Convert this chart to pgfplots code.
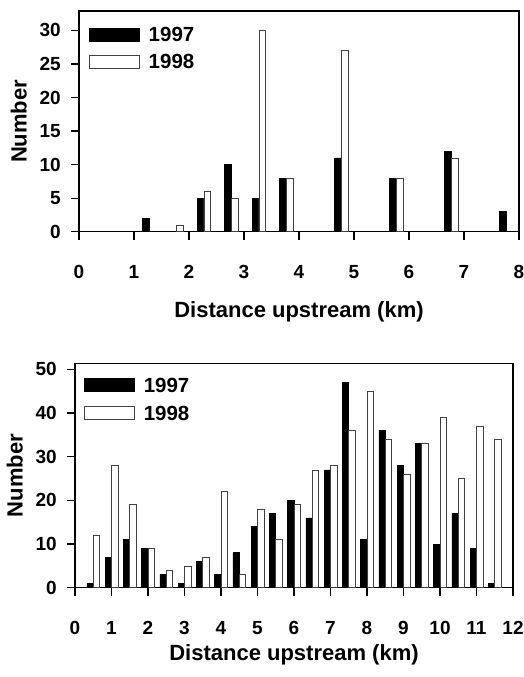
\documentclass[border=0pt]{standalone}
\usepackage{pgfplots}
\pgfplotsset{compat=1.18}
\usepackage{fontspec}
\setmainfont{Liberation Sans}

\pgfplotsset{
  fishaxis/.style={
    scale only axis,
    anchor=north west,
    enlargelimits=false,
    xmin=0, ymin=0,
    axis line style={line width=1.5pt},
    tick align=outside,
    xtick pos=bottom, ytick pos=left,
    major tick length=8pt,
    major tick style={line width=1.2pt, black},
    /pgf/number format/assume math mode=true,
    ticklabel style={font=\fontsize{19}{19}\bfseries\selectfont},
    yticklabel style={inner sep=0pt, xshift=-10pt, anchor=east},
    xticklabel style={inner sep=0pt, yshift=-25pt, anchor=north,
      text height=13.6pt, text depth=0pt},
    xlabel={Distance upstream (km)},
    ylabel={Number},
    label style={font=\fontsize{22}{22}\bfseries\selectfont, inner sep=0pt},
    ylabel style={at={(axis description cs:0,0.5)}, yshift=52pt, anchor=south},
    legend style={draw=none, fill=none, inner sep=0pt, row sep=13pt,
      font=\fontsize{20.5}{20.5}\bfseries\selectfont,
      legend cell align=left, anchor=north west,
      nodes={inner sep=0pt, text height=14pt, text depth=0pt}},
    every axis plot post/.append style={
      legend image code/.code={
        \draw[##1, line width=0.8pt] (0pt,-6.5pt) rectangle (50pt,6.5pt);
        \path[draw=none, fill=none] (50pt,0pt) -- (59pt,0pt);}},
    blackbar/.style={fill=black, draw=black, line width=0.6pt},
    whitebar/.style={fill=white, draw=black!75, line width=0.6pt},
  }
}

\begin{document}
\begin{tikzpicture}
\path[use as bounding box] (0pt,0pt) rectangle (524pt,-677pt);

% upper panel
\begin{axis}[fishaxis,
  at={(79pt,-11pt)}, width=440pt, height=220.7pt,
  xmax=8, ymax=32.9,
  xtick={0,1,...,8}, ytick={0,5,...,30},
  xlabel style={at={(axis description cs:0.5,0)}, yshift=-70pt, anchor=north},
  legend style={at={(axis description cs:0.023,0.925)}},
  ybar, bar width=0.122,
]
\addplot[blackbar, bar shift=-0.061] coordinates {
  (1.27,2) (2.27,5) (2.77,10) (3.27,5) (3.77,8) (4.77,11) (5.77,8) (6.77,12) (7.77,3)};
\addplot[whitebar, bar shift=0.061] coordinates {
  (1.77,1) (2.27,6) (2.77,5) (3.27,30) (3.77,8) (4.77,27) (5.77,8) (6.77,11)};
\legend{1997,1998}
\end{axis}

% lower panel
\begin{axis}[fishaxis,
  at={(75pt,-363.3pt)}, width=438pt, height=224.4pt,
  xmax=12, ymax=51.4,
  xtick={0,1,...,12}, ytick={0,10,...,50},
  xlabel style={at={(axis description cs:0.5,0)}, yshift=-57pt, anchor=north},
  legend style={at={(axis description cs:0.021,0.935)}, row sep=14pt},
  ybar, bar width=0.173,
]
\addplot[blackbar, bar shift=-0.0865] coordinates {
  (0.5,1) (1.0,7) (1.5,11) (2.0,9) (2.5,3) (3.0,1) (3.5,6) (4.0,3)
  (4.5,8) (5.0,14) (5.5,17) (6.0,20) (6.5,16) (7.0,27) (7.5,47) (8.0,11)
  (8.5,36) (9.0,28) (9.5,33) (10.0,10) (10.5,17) (11.0,9) (11.5,1)};
\addplot[whitebar, bar shift=0.0865] coordinates {
  (0.5,12) (1.0,28) (1.5,19) (2.0,9) (2.5,4) (3.0,5) (3.5,7) (4.0,22)
  (4.5,3) (5.0,18) (5.5,11) (6.0,19) (6.5,27) (7.0,28) (7.5,36) (8.0,45)
  (8.5,34) (9.0,26) (9.5,33) (10.0,39) (10.5,25) (11.0,37) (11.5,34)};
\legend{1997,1998}
\end{axis}
\end{tikzpicture}
\end{document}
